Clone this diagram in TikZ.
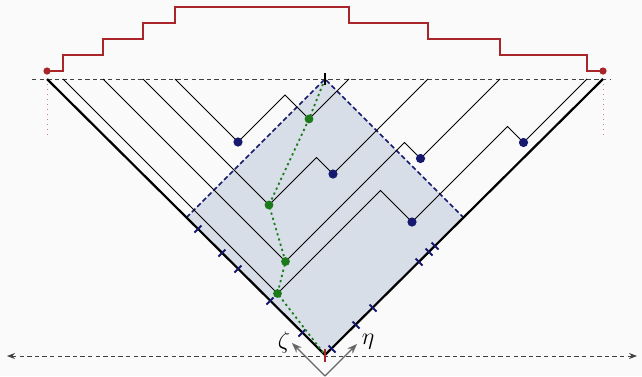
\documentclass[tikz,border=0pt]{standalone}
\usepackage{amsmath}
\usepackage{tikz}
\usetikzlibrary{arrows.meta,calc}
\definecolor{Navy}{HTML}{16196E}
\definecolor{Leaf}{HTML}{1C7A1C}
\definecolor{Brick}{HTML}{A8262A}
\definecolor{Shade}{HTML}{D7DEE7}
\definecolor{Paper}{HTML}{FAFAFA}

\begin{document}
\begin{tikzpicture}[x=0.5pt,y=-0.5pt,
  walk/.style={black,line width=0.45pt},
  edge/.style={black,line width=1.1pt},
  bdot/.style={Navy},
  gdot/.style={Leaf},
  tickmark/.style={Navy,line width=0.9pt},
  axis/.style={black!75,line width=0.5pt,dash pattern=on 2.2pt off 1.6pt}]
  \useasboundingbox (0,0) rectangle (642,376);
  \fill[Paper] (0,0) rectangle (642,376);

  \coordinate (L) at (47,79);
  \coordinate (R) at (603,79);
  \coordinate (T) at (325,79);
  \coordinate (B) at (325,355);
  \coordinate (W) at (186.5,217.5);
  \coordinate (E) at (463.5,217.5);

  \fill[Shade] (T) -- (E) -- (B) -- (W) -- cycle;
  \draw[Navy,line width=0.8pt,dash pattern=on 2.4pt off 1.4pt] (W) -- (T) -- (E);

  \draw[axis] (32,79) -- (610,79);
  \draw[axis,{Stealth[length=4pt]}-{Stealth[length=4pt]}] (7,356) -- (637,356);
  \draw[Brick!60,line width=0.5pt,dotted] (L) -- (47,135);
  \draw[Brick!60,line width=0.5pt,dotted] (R) -- (603,135);

  \draw[Brick,line width=0.8pt] (47,71) -- (63,71) -- (63,55) -- (103,55) -- (103,39)
    -- (143,39) -- (143,23) -- (175,23) -- (175,7) -- (349,7) -- (349,23) -- (428,23)
    -- (428,39) -- (500,39) -- (500,55) -- (587,55) -- (587,71) -- (603,71);
  \fill[Brick] (47,71) circle[radius=1.8pt];
  \fill[Brick] (603,71) circle[radius=1.8pt];

  \coordinate (g1) at (309,119);
  \coordinate (g2) at (269,205);
  \coordinate (g3) at (285.5,261.5);
  \coordinate (g4) at (277.5,293.5);
  \coordinate (b1) at (238,142);
  \coordinate (b2) at (333,174);
  \coordinate (b3) at (420.5,158.5);
  \coordinate (b4) at (412,222);
  \coordinate (b5) at (523.5,142.5);

  \draw[walk] (175,79) -- (b1) -- (285,95) -- (g1) -- (349,79);
  \draw[walk] (143,79) -- (g2) -- (316.5,157.5) -- (b2) -- (428,79);
  \draw[walk] (103,79) -- (g3) -- (404.5,142.5) -- (b3) -- (500,79);
  \draw[walk] (63,79) -- (g4) -- (380.5,190.5) -- (b4) -- (507.5,126.5) -- (b5) -- (587,79);

  \draw[edge] (L) -- (B) -- (R);

  \foreach \x in {198,222,238,270,302}
    \draw[tickmark] ($(\x,\x+31)+(-3.5,3.5)$) -- ($(\x,\x+31)+(3.5,-3.5)$);
  \foreach \x in {332,356,373,419,429,435}
    \draw[tickmark] ($(\x,681-\x)+(-3.5,-3.5)$) -- ($(\x,681-\x)+(3.5,3.5)$);

  \draw[Leaf,line width=0.9pt,dash pattern=on 1.1pt off 1.6pt] (T) -- (g1) -- (g2) -- (g3) -- (g4) -- (B);

  \foreach \p in {b1,b2,b3,b4,b5}
    \fill[bdot] (\p) circle[radius=2.3pt];
  \foreach \p in {g1,g2,g3,g4}
    \fill[gdot] (\p) circle[radius=2.2pt];

  \draw[black,line width=1pt] (325,73) -- (325,85);
  \draw[Brick,line width=1.2pt] (325,349) -- (325,362);

  \coordinate (O) at (325,376);
  \coordinate (zt) at (292,343);
  \coordinate (et) at (357,344);
  \draw[black!60,line width=0.6pt,-{Stealth[length=5pt]}] (O) -- (zt);
  \draw[black!60,line width=0.6pt,-{Stealth[length=5pt]}] (O) -- (et);
  \node[font=\large] (zeta) at (284,342) {$\zeta$};
  \node[font=\large] (eta) at (368,342) {$\eta$};
\end{tikzpicture}
\end{document}
